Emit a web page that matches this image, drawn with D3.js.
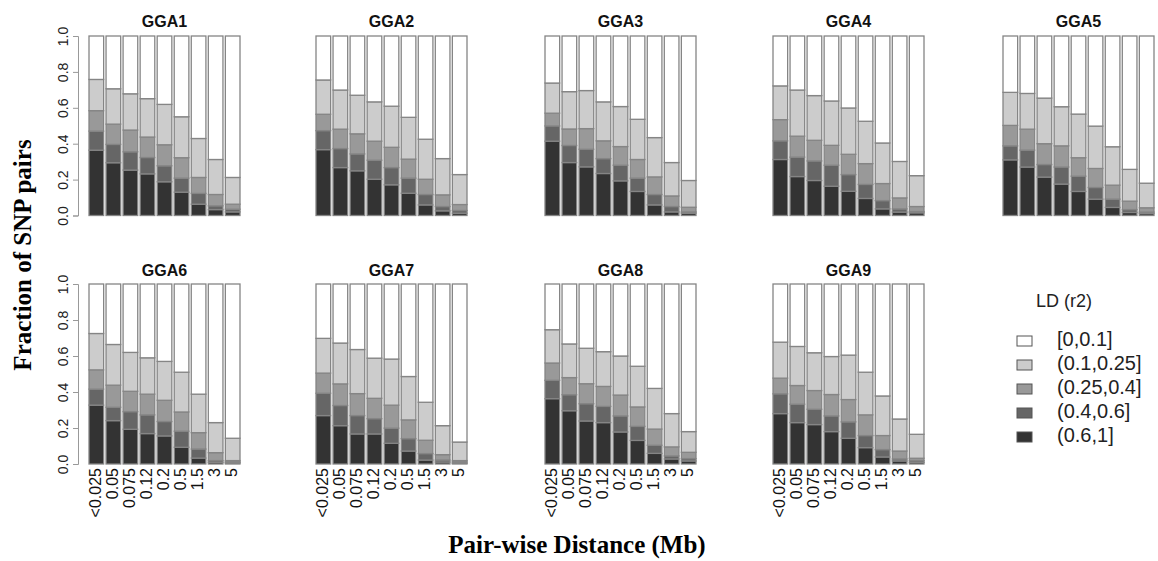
<!DOCTYPE html>
<html><head><meta charset="utf-8">
<script src="https://cdn.jsdelivr.net/npm/d3@7"></script>
<style>body{margin:0;background:#fff}svg{display:block}</style>
</head><body><svg id="c" width="1158" height="561"></svg>
<script>
const distances = ["<0.025","0.05","0.075","0.12","0.2","0.5","1.5","3","5"];
const chromosomes = ["GGA1","GGA2","GGA3","GGA4","GGA5","GGA6","GGA7","GGA8","GGA9"];
const ldClasses = ["(0.6,1]","(0.4,0.6]","(0.25,0.4]","(0.1,0.25]","[0,0.1]"];
const legendOrder = ["[0,0.1]","(0.1,0.25]","(0.25,0.4]","(0.4,0.6]","(0.6,1]"];
const yTicks = [0,0.2,0.4,0.6,0.8,1.0];
const ldColors = ["#333333","#666666","#999999","#cccccc","#ffffff"];

// fractions per LD class (rows: (0.6,1], (0.4,0.6], (0.25,0.4], (0.1,0.25], [0,0.1])
const GGA1 = [[.364,.294,.253,.232,.188,.130,.063,.033,.020],[.106,.102,.102,.091,.089,.078,.060,.021,.015],[.114,.113,.121,.114,.117,.114,.089,.063,.028],[.174,.197,.202,.214,.225,.228,.217,.195,.149],[.242,.294,.322,.349,.381,.450,.571,.688,.788]];
const GGA2 = [[.367,.267,.249,.202,.171,.124,.059,.026,.013],[.106,.106,.094,.106,.096,.084,.058,.024,.015],[.091,.108,.112,.106,.113,.106,.085,.065,.033],[.191,.218,.215,.219,.229,.233,.223,.202,.167],[.245,.301,.330,.367,.391,.453,.575,.683,.772]];
const GGA3 = [[.414,.295,.271,.234,.193,.134,.059,.020,.013],[.085,.095,.098,.083,.087,.074,.058,.030,.007],[.071,.092,.115,.099,.104,.104,.098,.059,.026],[.168,.208,.212,.217,.223,.224,.219,.186,.149],[.262,.310,.304,.367,.393,.464,.566,.705,.805]];
const GGA4 = [[.312,.217,.195,.163,.135,.095,.037,.019,.015],[.104,.108,.109,.117,.093,.078,.046,.018,.007],[.118,.117,.115,.111,.113,.116,.095,.061,.028],[.188,.257,.249,.247,.258,.236,.226,.203,.172],[.278,.301,.332,.362,.401,.475,.596,.699,.778]];
const GGA5 = [[.310,.270,.214,.175,.134,.091,.045,.017,.011],[.078,.094,.070,.095,.085,.065,.046,.016,.008],[.114,.117,.116,.118,.103,.106,.078,.047,.024],[.184,.199,.254,.218,.243,.236,.214,.177,.137],[.314,.320,.346,.394,.435,.502,.617,.743,.820]];
const GGA6 = [[.327,.241,.193,.169,.156,.093,.033,.009,.006],[.089,.074,.098,.104,.080,.089,.050,.010,.005],[.107,.123,.113,.115,.118,.107,.091,.044,.008],[.202,.226,.216,.202,.216,.221,.214,.167,.124],[.275,.336,.380,.410,.430,.490,.612,.770,.857]];
const GGA7 = [[.269,.213,.167,.167,.115,.072,.022,.011,.004],[.124,.112,.102,.085,.084,.069,.036,.011,.007],[.112,.120,.122,.113,.128,.104,.074,.030,.008],[.193,.227,.245,.223,.256,.241,.211,.161,.103],[.302,.328,.364,.412,.417,.514,.657,.787,.878]];
const GGA8 = [[.363,.296,.239,.230,.178,.131,.059,.028,.017],[.102,.089,.096,.090,.089,.078,.045,.017,.013],[.096,.095,.111,.111,.116,.108,.090,.050,.035],[.185,.187,.197,.193,.217,.226,.226,.185,.115],[.254,.333,.357,.376,.400,.457,.580,.720,.820]];
const GGA9 = [[.280,.230,.219,.180,.143,.091,.039,.017,.009],[.110,.102,.085,.087,.091,.067,.041,.011,.010],[.087,.104,.104,.119,.124,.115,.078,.044,.013],[.200,.217,.210,.211,.247,.237,.220,.178,.133],[.323,.347,.382,.403,.395,.490,.622,.750,.835]];
const panelData = [GGA1,GGA2,GGA3,GGA4,GGA5,GGA6,GGA7,GGA8,GGA9];

const svg = d3.select("#c");
const colX = [89, 316, 545, 773, 1003];
const rowY = [{top:36,bottom:215.5},{top:284,bottom:464}];
const panelW = 151;
const color = d3.scaleOrdinal().domain(ldClasses).range(ldColors);
const sans = "Liberation Sans, Arial, sans-serif";
const serif = "Liberation Serif, Times New Roman, serif";

chromosomes.forEach((name, i) => {
  const r = i < 5 ? 0 : 1, c = i < 5 ? i : i - 5;
  const x = d3.scaleBand().domain(distances).range([colX[c], colX[c] + panelW]).paddingInner(0.14).paddingOuter(0);
  const y = d3.scaleLinear().domain([0,1]).range([rowY[r].bottom, rowY[r].top]);
  const rows = distances.map((d, j) => {
    const o = {dist: d};
    ldClasses.forEach((k, m) => o[k] = panelData[i][m][j]);
    return o;
  });
  const series = d3.stack().keys(ldClasses)(rows);
  const g = svg.append("g");
  series.forEach(s => {
    g.selectAll(null).data(s).join("rect")
      .attr("x", d => x(d.data.dist))
      .attr("width", x.bandwidth())
      .attr("y", d => y(d[1]))
      .attr("height", d => y(d[0]) - y(d[1]))
      .attr("fill", color(s.key))
      .attr("stroke", "#858585")
      .attr("stroke-width", 1.3);
  });
  svg.append("text").attr("x", colX[c] + panelW/2).attr("y", r === 0 ? 27 : 276)
    .attr("text-anchor","middle").attr("font-family",sans)
    .attr("font-weight","bold").attr("font-size",16).attr("fill","#111").text(name);
  if (c === 0) {
    const ax = svg.append("g").attr("transform", `translate(${colX[c]-11},0)`)
      .call(d3.axisLeft(y).tickValues(yTicks).tickFormat(d3.format(".1f")).tickSize(5));
    ax.select(".domain").attr("stroke","#999");
    ax.selectAll(".tick line").attr("stroke","#999");
    ax.selectAll(".tick text").attr("font-family",sans).attr("font-size",14)
      .attr("fill","#222").attr("text-anchor","middle").attr("dy",0)
      .attr("transform", "translate(-14,0) rotate(-90)")
      .attr("x",0).attr("y",0).attr("dominant-baseline","middle");
  }
  if (r === 1) {
    const xa = svg.append("g").attr("transform", `translate(0,${rowY[r].bottom + 4})`)
      .call(d3.axisBottom(x).tickSize(0));
    xa.select(".domain").remove();
    xa.selectAll(".tick text").attr("font-family",sans).attr("font-size",16)
      .attr("fill","#111").attr("text-anchor","end").attr("dominant-baseline","middle")
      .attr("x",0).attr("y",0).attr("dy",0).attr("transform","rotate(-90)");
  }
});

svg.append("text").attr("x",577).attr("y",553).attr("text-anchor","middle")
  .attr("font-family",serif).attr("font-weight","bold")
  .attr("font-size",25).text("Pair-wise Distance (Mb)");
svg.append("text").attr("transform","translate(31,255) rotate(-90)").attr("text-anchor","middle")
  .attr("font-family",serif).attr("font-weight","bold")
  .attr("font-size",25).text("Fraction of SNP pairs");

const lg = svg.append("g");
lg.append("text").attr("x",1064).attr("y",307).attr("text-anchor","middle")
  .attr("font-family",sans).attr("font-size",18).attr("fill","#222").text("LD (r2)");
const ly = d3.scalePoint().domain(legendOrder).range([341, 437]);
legendOrder.forEach(k => {
  lg.append("rect").attr("x",1017).attr("y",ly(k)-5).attr("width",15).attr("height",10)
    .attr("fill", color(k)).attr("stroke","#555").attr("stroke-width",1);
  lg.append("text").attr("x",1057).attr("y",ly(k)).attr("dominant-baseline","middle")
    .attr("font-family",sans).attr("font-size",20).attr("fill","#222").text(k);
});
</script></body></html>
